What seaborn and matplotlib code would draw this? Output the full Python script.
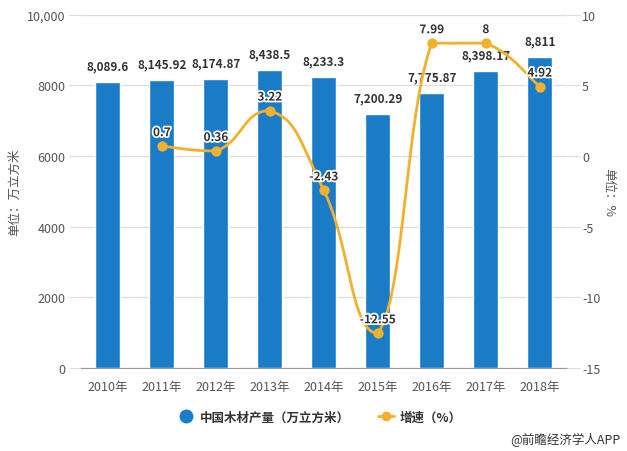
import matplotlib
matplotlib.use("Agg")
import matplotlib.pyplot as plt
import matplotlib.patheffects as pe
from matplotlib.lines import Line2D
import numpy as np
import pandas as pd
import seaborn as sns

years = ["2010年", "2011年", "2012年", "2013年", "2014年", "2015年", "2016年", "2017年", "2018年"]
output = [8089.6, 8145.92, 8174.87, 8438.5, 8233.3, 7200.29, 7775.87, 8398.17, 8811]
output_labels = ["8,089.6", "8,145.92", "8,174.87", "8,438.5", "8,233.3", "7,200.29", "7,775.87", "8,398.17", "8,811"]
growth_years = ["2011年", "2012年", "2013年", "2014年", "2015年", "2016年", "2017年", "2018年"]
growth = [0.7, 0.36, 3.22, -2.43, -12.55, 7.99, 8, 4.92]
growth_labels = ["0.7", "0.36", "3.22", "-2.43", "-12.55", "7.99", "8", "4.92"]

BLUE = "#1a7bc6"
ORANGE = "#efb12e"
GRID = "#dcdcdc"
TXT = "#555555"

sns.set_style("white")
plt.rcParams["font.family"] = ["Noto Sans CJK SC", "DejaVu Sans"]
plt.rcParams["axes.unicode_minus"] = False

df = pd.DataFrame({"year": years, "output": output})

fig = plt.figure(figsize=(6.27, 4.52), dpi=100)
ax = fig.add_axes([0.129, 0.184, 0.775, 0.781])
sns.barplot(data=df, x="year", y="output", color=BLUE, width=0.46, saturation=1, ax=ax)
ax.set_ylim(0, 10000)
ax.set_xlim(-0.5, len(years) - 0.5)
ax.set_yticks([0, 2000, 4000, 6000, 8000, 10000])
ax.set_yticklabels(["0", "2000", "4000", "6000", "8000", "10,000"])
ax.yaxis.grid(True, color=GRID, linewidth=0.9)
ax.set_axisbelow(True)
for s in ["left", "right", "top"]:
    ax.spines[s].set_visible(False)
ax.spines["bottom"].set_color("#999999")
ax.tick_params(axis="y", length=9, color=GRID, colors=TXT, labelsize=9, pad=2)
ax.tick_params(axis="x", length=4, color="#999999", colors=TXT, labelsize=9, pad=5)
ax.set_xlabel("")
ax.set_ylabel("单位：万立方米", color=TXT, fontsize=9, labelpad=4)

for i, (v, lab) in enumerate(zip(output, output_labels)):
    ax.annotate(lab, (i, v), xytext=(0, 7), textcoords="offset points",
                ha="center", va="bottom", fontsize=8.5, fontweight="bold", color="#333333")

ax2 = ax.twinx()
ax2.set_ylim(-15, 10)
ax2.set_yticks([-15, -10, -5, 0, 5, 10])
for s in ["left", "right", "top", "bottom"]:
    ax2.spines[s].set_visible(False)
ax2.tick_params(axis="y", length=9, color=GRID, colors=TXT, labelsize=9, pad=2)
ax2.set_ylabel("单位：%", color=TXT, fontsize=9, rotation=-90, labelpad=11)

# smooth curve through the growth points, control points kept inside each segment's range
gx = np.array([years.index(y) for y in growth_years], dtype=float)
gy = np.array(growth, dtype=float)
pts = np.column_stack([gx, gy])
n = len(pts)
curve = []
sm = 0.5
for i in range(n - 1):
    p0 = pts[i]
    p1 = pts[i + 1]
    prev = pts[i - 1] if i > 0 else p0
    nxt = pts[i + 2] if i + 2 < n else p1
    c1 = p0 + sm * (p1 - prev) / 2
    c2 = p1 - sm * (nxt - p0) / 2
    lo, hi = min(p0[1], p1[1]), max(p0[1], p1[1])
    c1[1] = np.clip(c1[1], lo, hi)
    c2[1] = np.clip(c2[1], lo, hi)
    t = np.linspace(0, 1, 40)[:, None]
    seg = (1 - t) ** 3 * p0 + 3 * (1 - t) ** 2 * t * c1 + 3 * (1 - t) * t ** 2 * c2 + t ** 3 * p1
    curve.append(seg if i == 0 else seg[1:])
curve = np.vstack(curve)
ax2.plot(curve[:, 0], curve[:, 1], color=ORANGE, linewidth=2, zorder=3)
sns.scatterplot(x=gx, y=gy, color=ORANGE, s=55, edgecolor=ORANGE, linewidth=0, ax=ax2, zorder=4)

for x, v, lab in zip(gx, gy, growth_labels):
    t = ax2.annotate(lab, (x, v), xytext=(0, 5), textcoords="offset points",
                     ha="center", va="bottom", fontsize=8.5, fontweight="bold", color="#333333", zorder=5)
    t.set_path_effects([pe.withStroke(linewidth=2.5, foreground="white")])

handles = [
    Line2D([], [], marker="o", linestyle="none", markersize=9, color=BLUE),
    Line2D([], [], marker="o", linestyle="-", linewidth=2, markersize=6, color=ORANGE),
]
fig.legend(handles, ["中国木材产量（万立方米）", "增速（%）"], loc="center", bbox_to_anchor=(0.51, 0.075),
           ncol=2, frameon=False, handlelength=1.3, columnspacing=2.2, handletextpad=0.5,
           prop={"weight": "bold", "size": 9})
for t in fig.legends[0].get_texts():
    t.set_color("#333333")

fig.text(0.99, 0.012, "@前瞻经济学人APP", ha="right", va="bottom", fontsize=9, color="#333333")

fig.savefig("out.png", dpi=100)
